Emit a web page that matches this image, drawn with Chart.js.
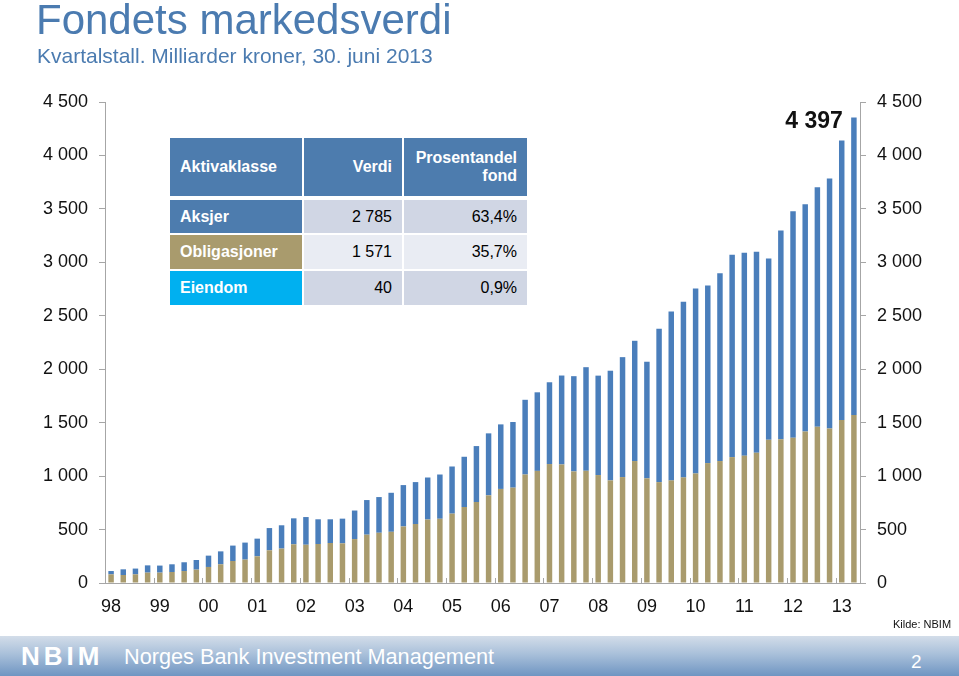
<!DOCTYPE html>
<html>
<head>
<meta charset="utf-8">
<script src="https://cdn.jsdelivr.net/npm/chart.js@4"></script>
<style>
  html, body { margin: 0; padding: 0; background: #fff; }
  #page { position: relative; width: 959px; height: 676px; overflow: hidden; font-family: "Liberation Sans", Arial, sans-serif; }
  #chart { position: absolute; left: 0; top: 0; }
  .title { position: absolute; left: 36px; top: -4px; font-size: 42px; color: #4b7bb0; white-space: nowrap; }
  .subtitle { position: absolute; left: 37px; top: 44px; font-size: 21px; color: #4b7bb0; white-space: nowrap; }
  .cell { position: absolute; box-sizing: border-box; font-size: 16px; display: flex; align-items: center; padding: 0 10px; }
  .hd { background: #4d7cae; color: #fff; font-weight: bold; }
  .r { justify-content: flex-end; text-align: right; }
  .kilde { position: absolute; left: 893px; top: 618px; font-size: 11px; color: #111; }
  #footer { position: absolute; left: 0; top: 636px; width: 959px; height: 40px;
    background: linear-gradient(to bottom, #d3dde9 0%, #a9c0da 45%, #6f95c2 100%); }
  #footer .logo { position: absolute; left: 21px; top: 5px; font-size: 26px; font-weight: bold; color: #fff; letter-spacing: 4px; }
  #footer .name { position: absolute; left: 124px; top: 8px; font-size: 21.7px; color: #fff; }
  #footer .num { position: absolute; left: 911px; top: 15px; font-size: 19px; color: #fff; }
</style>
</head>
<body>
<div id="page">
  <canvas id="chart" width="959" height="676"></canvas>
  <div class="title">Fondets markedsverdi</div>
  <div class="subtitle">Kvartalstall. Milliarder kroner, 30. juni 2013</div>

  <div class="cell hd" style="left:170px;top:138px;width:132px;height:58px;">Aktivaklasse</div>
  <div class="cell hd r" style="left:304px;top:138px;width:98px;height:58px;">Verdi</div>
  <div class="cell hd r" style="left:404px;top:138px;width:123px;height:58px;">Prosentandel<br>fond</div>

  <div class="cell hd" style="left:170px;top:200px;width:132px;height:33px;">Aksjer</div>
  <div class="cell r" style="left:304px;top:200px;width:98px;height:33px;background:#d0d6e4;">2 785</div>
  <div class="cell r" style="left:404px;top:200px;width:123px;height:33px;background:#d0d6e4;">63,4%</div>

  <div class="cell" style="left:170px;top:235px;width:132px;height:34px;background:#a99b6d;color:#fff;font-weight:bold;">Obligasjoner</div>
  <div class="cell r" style="left:304px;top:235px;width:98px;height:34px;background:#e9ecf3;">1 571</div>
  <div class="cell r" style="left:404px;top:235px;width:123px;height:34px;background:#e9ecf3;">35,7%</div>

  <div class="cell" style="left:170px;top:271px;width:132px;height:34px;background:#00b0f0;color:#fff;font-weight:bold;">Eiendom</div>
  <div class="cell r" style="left:304px;top:271px;width:98px;height:34px;background:#d0d6e4;">40</div>
  <div class="cell r" style="left:404px;top:271px;width:123px;height:34px;background:#d0d6e4;">0,9%</div>

  <div class="kilde">Kilde: NBIM</div>
  <div id="footer">
    <div class="logo">NBIM</div>
    <div class="name">Norges Bank Investment Management</div>
    <div class="num">2</div>
  </div>
</div>
<script>
// Quarterly market value, 1998 Q1 – 2013 Q2, billions NOK
const years = ["98", "99", "00", "01", "02", "03", "04", "05", "06", "07", "08", "09", "10", "11", "12", "13"];
const quarters = ["Q1", "Q2", "Q3", "Q4"];

// Obligasjoner (bottom, tan)
const bonds = [
  81, 75, 81, 97, 97, 103, 112, 125, 150, 175, 206, 219, 250, 306, 322, 362,
  358, 365, 374, 371, 411, 452, 470, 479, 529, 552, 594, 601, 649, 711, 758, 820,
  880, 892, 1015, 1049, 1113, 1109, 1044, 1050, 1010, 960, 991, 1141, 979, 944, 960, 988,
  1025, 1122, 1141, 1178, 1191, 1219, 1341, 1346, 1360, 1418, 1462, 1446, 1524, 1571
];

// Aksjer (top, blue)
const stocks = [
  31, 53, 54, 68, 66, 72, 82, 90, 106, 121, 144, 159, 165, 208, 218, 243,
  259, 231, 222, 231, 267, 324, 334, 365, 387, 392, 393, 414, 441, 470, 523, 580,
  604, 614, 699, 735, 765, 832, 891, 969, 930, 1026, 1122, 1125, 1091, 1435, 1580, 1643,
  1730, 1661, 1757, 1892, 1898, 1880, 1695, 1952, 2118, 2126, 2241, 2338, 2615, 2785
];

const yTicks = [0, 500, 1000, 1500, 2000, 2500, 3000, 3500, 4000, 4500];
const totalLabel = "4 397";

const labels = [];
years.forEach(y => quarters.forEach(q => { if (labels.length < bonds.length) labels.push(y + " " + q); }));

const axisGray = "#a6a6a6";
const tickFont = { family: "Liberation Sans, Arial, sans-serif", size: 18 };

function fmt(v) {
  return String(v).replace(/\B(?=(\d{3})+(?!\d))/g, " ");
}

// small inward tick marks at year boundaries + the total label over the last bar
const extras = {
  id: "extras",
  afterDatasetsDraw(chart) {
    const ctx = chart.ctx;
    const x = chart.scales.x;
    const bottom = chart.chartArea.bottom;
    const half = (x.getPixelForValue(1) - x.getPixelForValue(0)) / 2;
    ctx.save();
    ctx.strokeStyle = axisGray;
    ctx.lineWidth = 1;
    for (let i = 4; i < labels.length; i += 4) {
      const px = Math.round(x.getPixelForValue(i) - half) + 0.5;
      ctx.beginPath();
      ctx.moveTo(px, bottom);
      ctx.lineTo(px, bottom - 5);
      ctx.stroke();
    }
    const meta = chart.getDatasetMeta(1);
    const last = meta.data[meta.data.length - 1];
    ctx.fillStyle = "#111";
    ctx.font = "bold 23px Liberation Sans, Arial, sans-serif";
    ctx.textAlign = "right";
    ctx.textBaseline = "alphabetic";
    ctx.fillText(totalLabel, last.x - 11, last.y + 10.5);
    ctx.restore();
  }
};

new Chart(document.getElementById("chart"), {
  type: "bar",
  data: {
    labels: labels,
    datasets: [
      { label: "Obligasjoner", data: bonds, backgroundColor: "#a99b6d", stack: "s", barPercentage: 0.45, categoryPercentage: 1 },
      { label: "Aksjer", data: stocks, backgroundColor: "#4a7ebb", stack: "s", barPercentage: 0.45, categoryPercentage: 1 }
    ]
  },
  options: {
    responsive: false,
    animation: false,
    layout: { padding: { top: 102, left: 0, right: 0, bottom: 0 } },
    plugins: { legend: { display: false }, tooltip: { enabled: false } },
    scales: {
      x: {
        stacked: true,
        grid: { display: false, drawTicks: false },
        border: { display: true, color: axisGray },
        ticks: {
          autoSkip: false, maxRotation: 0, minRotation: 0, padding: 13,
          color: "#111", font: tickFont,
          callback: (v, i) => (i % 4 === 0 ? years[i / 4] : "")
        },
        afterFit: s => { s.height = 93; }
      },
      y: {
        stacked: true, min: 0, max: 4500,
        position: "left",
        grid: { drawOnChartArea: false, tickLength: 6, color: axisGray },
        border: { color: axisGray },
        afterBuildTicks: s => { s.ticks = yTicks.map(v => ({ value: v })); },
        ticks: { color: "#111", font: tickFont, padding: 11, callback: v => fmt(v) },
        afterFit: s => { s.width = 105; }
      },
      y2: {
        min: 0, max: 4500,
        position: "right",
        grid: { drawOnChartArea: false, tickLength: 6, color: axisGray },
        border: { color: axisGray },
        afterBuildTicks: s => { s.ticks = yTicks.map(v => ({ value: v })); },
        ticks: { color: "#111", font: tickFont, padding: 11, callback: v => fmt(v) },
        afterFit: s => { s.width = 99; }
      }
    }
  },
  plugins: [extras]
});
</script>
</body>
</html>
